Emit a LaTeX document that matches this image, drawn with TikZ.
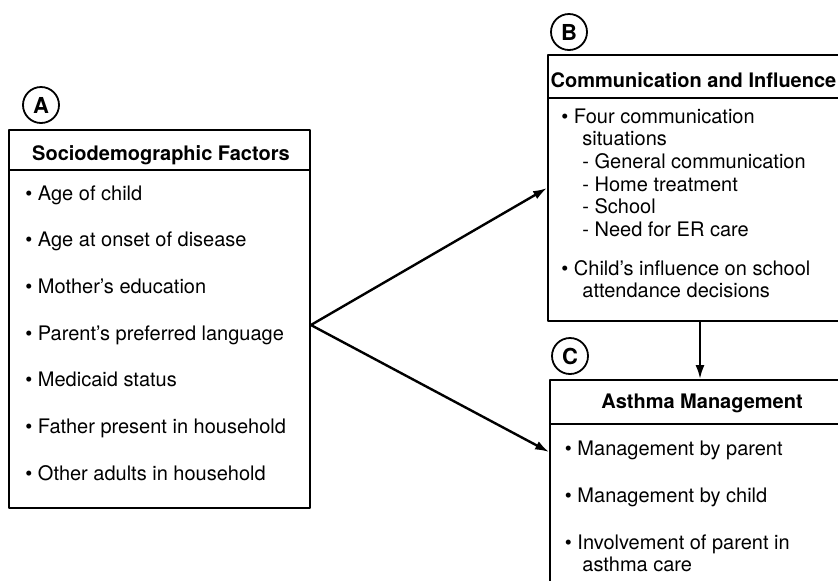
\documentclass[tikz,border=0pt]{standalone}
\usepackage{fontspec}
\setmainfont{TeX Gyre Heros}
\usetikzlibrary{arrows.meta,calc}

\begin{document}
\begin{tikzpicture}[x=0.5pt, y=-0.5pt, >={Latex[length=7pt,width=4.5pt]},
  line cap=round, line join=round,
  frame/.style={draw, line width=0.9pt, inner sep=0pt},
  tag/.style={circle, draw, line width=0.9pt, minimum size=18pt, inner sep=0pt,
    font=\bfseries\fontsize{11}{11}\selectfont},
  head/.style={anchor=base, inner sep=0pt, font=\bfseries\fontsize{10}{12}\selectfont},
  itm/.style={anchor=base west, inner sep=0pt, font=\fontsize{10}{12}\selectfont},
  link/.style={->, line width=1.2pt}]
% ---------- page ----------
\useasboundingbox (0,0) rectangle (838,580);
\clip (0,0) rectangle (838,580);

% ---------- panel A: sociodemographic factors ----------
\node[tag] (tagA) at (41,105) {A};
\node[frame, minimum width=150.5pt, minimum height=20pt] (Ahead) at (159.5,150) {};
\node[frame, minimum width=150.5pt, minimum height=169pt] (Abody) at (159.5,339) {};
\node[head] (Atitle) at (161,160) {Sociodemographic Factors};
\foreach \t [count=\i] in {Age of child, Age at onset of disease, Mother's education,
    Parent's preferred language, Medicaid status, Father present in household,
    Other adults in household}
  \node[itm] (a\i) at (25,{200+46.7*(\i-1)}) {\textbullet\ \t};

% ---------- panel B: communication and influence ----------
\node[tag] (tagB) at (569,32) {B};
\node[frame, minimum width=166pt, minimum height=21.5pt] (Bhead) at (714,76.5) {};
\node[frame, minimum width=166pt, minimum height=111.5pt] (Bbody) at (714,209.5) {};
\node[head] (Btitle) at (693.5,87) {Communication and Influence};
\node[itm] (b1) at (561,123) {\textbullet\ Four communication};
\node[itm] (b2) at (582,145.7) {situations};
\node[itm] (b3) at (582,168.4) {- General communication};
\node[itm] (b4) at (582,191) {- Home treatment};
\node[itm] (b5) at (582,213.8) {- School};
\node[itm] (b6) at (582,236.5) {- Need for ER care};
\node[itm] (b7) at (561,275) {\textbullet\ Child's influence on school};
\node[itm] (b8) at (582,297.7) {attendance decisions};

% ---------- panel C: asthma management ----------
\node[tag] (tagC) at (570,356) {C};
\node[frame, minimum width=165pt, minimum height=22pt] (Chead) at (715,402) {};
\node[frame, minimum width=165pt, minimum height=108pt] (Cbody) at (715,532) {};
\node[head] (Ctitle) at (702,408) {Asthma Management};
\node[itm] (c1) at (564.5,455) {\textbullet\ Management by parent};
\node[itm] (c2) at (564.5,502) {\textbullet\ Management by child};
\node[itm] (c3) at (564.5,549) {\textbullet\ Involvement of parent in};
\node[itm] (c4) at (582,571) {asthma care};

% ---------- connectors ----------
\coordinate (fork) at (Abody.east |- 0,325);
\coordinate (inB) at (Bbody.west |- 0,188);
\coordinate (inC) at (Cbody.west |- 0,452);
\coordinate (dropB) at (700,0 |- Bbody.south);
\draw[link] (fork) -- (inB);
\draw[link] (fork) -- (inC);
\draw[link] (dropB) -- (dropB |- Chead.north);

\end{tikzpicture}
\end{document}
